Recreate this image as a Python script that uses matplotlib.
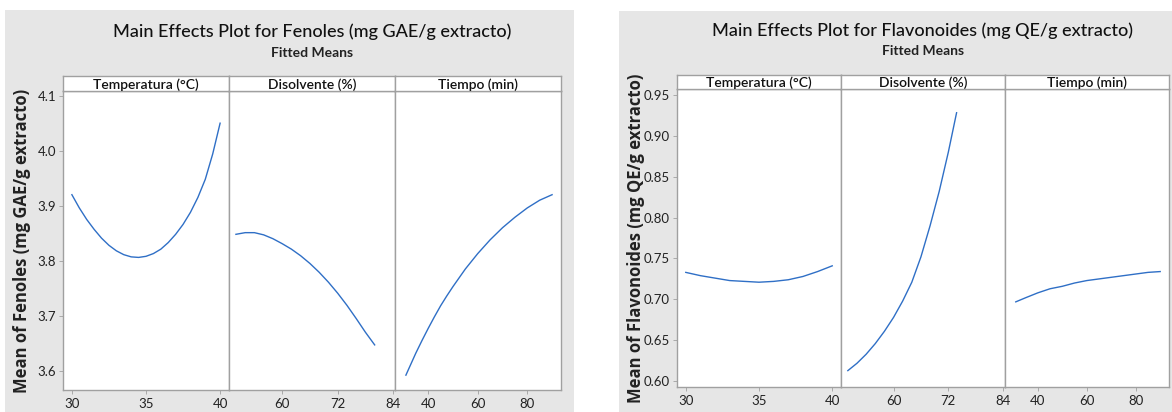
import matplotlib
matplotlib.use("Agg")
import matplotlib.pyplot as plt
from matplotlib.patches import Rectangle

# ---------------- data ----------------
factors = ["Temperatura (°C)", "Disolvente (%)", "Tiempo (min)"]

fen_temp_x = [30, 30.5, 31, 31.5, 32, 32.5, 33, 33.5, 34, 34.5, 35, 35.5, 36, 36.5,
              37, 37.5, 38, 38.5, 39, 39.5, 40]
fen_temp_y = [3.920, 3.896, 3.875, 3.857, 3.841, 3.828, 3.818, 3.811, 3.807, 3.806,
              3.808, 3.813, 3.821, 3.833, 3.848, 3.866, 3.888, 3.915, 3.948, 3.994, 4.050]
fen_dis_x = [50, 52, 54, 56, 58, 60, 62, 64, 66, 68, 70, 72, 74, 76, 78, 80]
fen_dis_y = [3.848, 3.851, 3.851, 3.847, 3.840, 3.831, 3.821, 3.809, 3.795, 3.779,
             3.761, 3.741, 3.719, 3.695, 3.670, 3.647]
fen_tie_x = [31, 33, 35, 37.5, 40, 42.5, 45, 47.5, 50, 55, 60, 65, 70, 75, 80, 85, 90]
fen_tie_y = [3.592, 3.612, 3.632, 3.655, 3.677, 3.698, 3.718, 3.736, 3.753, 3.785,
             3.813, 3.838, 3.860, 3.879, 3.896, 3.910, 3.920]

fla_temp_x = [30, 31, 32, 33, 34, 35, 36, 37, 38, 39, 40]
fla_temp_y = [0.733, 0.729, 0.726, 0.723, 0.722, 0.721, 0.722, 0.724, 0.728, 0.734, 0.741]
fla_dis_x = [50, 52, 54, 56, 58, 60, 62, 64, 66, 68, 70, 72, 73.8]
fla_dis_y = [0.613, 0.622, 0.633, 0.646, 0.661, 0.678, 0.698, 0.721, 0.752, 0.790,
             0.832, 0.880, 0.928]
fla_tie_x = [31, 35, 40, 45, 50, 55, 60, 65, 70, 75, 80, 85, 90]
fla_tie_y = [0.697, 0.702, 0.708, 0.713, 0.716, 0.720, 0.723, 0.725, 0.727, 0.729,
             0.731, 0.733, 0.734]

xticks = [[30, 35, 40], [60, 72, 84], [40, 60, 80]]
fen_yticks = [3.6, 3.7, 3.8, 3.9, 4.0, 4.1]
fla_yticks = [0.60, 0.65, 0.70, 0.75, 0.80, 0.85, 0.90, 0.95]

# ---------------- style ----------------
W, H = 1172, 412
NARROW = ["Lato", "DejaVu Sans"]
LINE = "#2f6fc6"
FRAME = "#a0a0a0"
BG = "#e6e6e6"
TXT = "#222222"

fig = plt.figure(figsize=(W / 100, H / 100), dpi=100)
fig.patch.set_facecolor("white")


def fx(x):
    return x / W


def fy(y):
    return 1 - y / H


def add_bg(x0, y0, x1, y1):
    fig.patches.append(Rectangle((fx(x0), fy(y1)), fx(x1) - fx(x0), fy(y0) - fy(y1),
                                 transform=fig.transFigure, facecolor=BG,
                                 edgecolor="none", zorder=-10))


def make_chart(left, right, top_strip, top, bottom, series, ylim, yticks, yfmt,
               title, ylabel, title_y, sub_y, ylabel_x):
    pw = (right - left) / 3
    xlims = [(29.4, 40.6), (48.5, 84.4), (26.6, 93.6)]
    for i, (xs, ys) in enumerate(series):
        x0 = left + i * pw
        ax = fig.add_axes([fx(x0), fy(bottom), pw / W, (bottom - top) / H])
        ax.set_zorder(5)
        ax.plot(xs, ys, color=LINE, lw=1.0, solid_joinstyle="round")
        ax.set_xlim(*xlims[i])
        ax.set_ylim(*ylim)
        ax.set_xticks(xticks[i])
        ax.set_xticklabels([str(t) for t in xticks[i]], fontfamily=NARROW,
                           fontsize=9.5, color=TXT)
        ax.set_yticks(yticks)
        if i == 0:
            ax.set_yticklabels([yfmt.format(t) for t in yticks], fontfamily=NARROW,
                               fontsize=9.5, color=TXT)
            ax.tick_params(axis="y", length=3, width=0.6, color=FRAME, pad=2)
        else:
            ax.tick_params(axis="y", length=0)
            ax.set_yticklabels([])
        ax.tick_params(axis="x", length=3, width=0.6, color=FRAME, pad=3)
        for s in ax.spines.values():
            s.set_color(FRAME)
            s.set_linewidth(1.0)
        ax.set_facecolor("white")
        # strip header
        sax = fig.add_axes([fx(x0), fy(top), pw / W, (top - top_strip) / H])
        sax.set_zorder(5)
        sax.set_xticks([])
        sax.set_yticks([])
        sax.set_facecolor("white")
        for s in sax.spines.values():
            s.set_color(FRAME)
            s.set_linewidth(1.0)
        sax.text(0.5, 0.45, factors[i], ha="center", va="center", fontsize=10,
                 fontfamily=NARROW, fontweight="semibold", color="#111111",
                 transform=sax.transAxes)
    cx = (left + right) / 2
    fig.text(fx(cx), fy(title_y), title, ha="center", va="center", fontsize=13,
             fontfamily=NARROW, fontweight="medium", color="#111111")
    fig.text(fx(cx), fy(sub_y), "Fitted Means", ha="center", va="center", fontsize=10,
             fontfamily=NARROW, fontweight="bold", color="#222222")
    fig.text(fx(ylabel_x), fy((top + bottom) / 2), ylabel, rotation=90, ha="center",
             va="center", fontsize=12, fontweight="bold", color="#222222",
             fontfamily=["Open Sans", "DejaVu Sans"])


add_bg(5, 10, 574, 412)
add_bg(619, 11, 1172, 412)

make_chart(63, 561, 76, 91, 390,
           [(fen_temp_x, fen_temp_y), (fen_dis_x, fen_dis_y), (fen_tie_x, fen_tie_y)],
           (3.565, 4.1085), fen_yticks, "{:.1f}",
           "Main Effects Plot for Fenoles (mg GAE/g extracto)",
           "Mean of Fenoles (mg GAE/g extracto)", 32, 53, 22)

make_chart(677, 1169, 75, 89, 387,
           [(fla_temp_x, fla_temp_y), (fla_dis_x, fla_dis_y), (fla_tie_x, fla_tie_y)],
           (0.593, 0.957), fla_yticks, "{:.2f}",
           "Main Effects Plot for Flavonoides (mg QE/g extracto)",
           "Mean of Flavonoides (mg QE/g extracto)", 31, 51, 636)

fig.savefig("out.png", dpi=100)
